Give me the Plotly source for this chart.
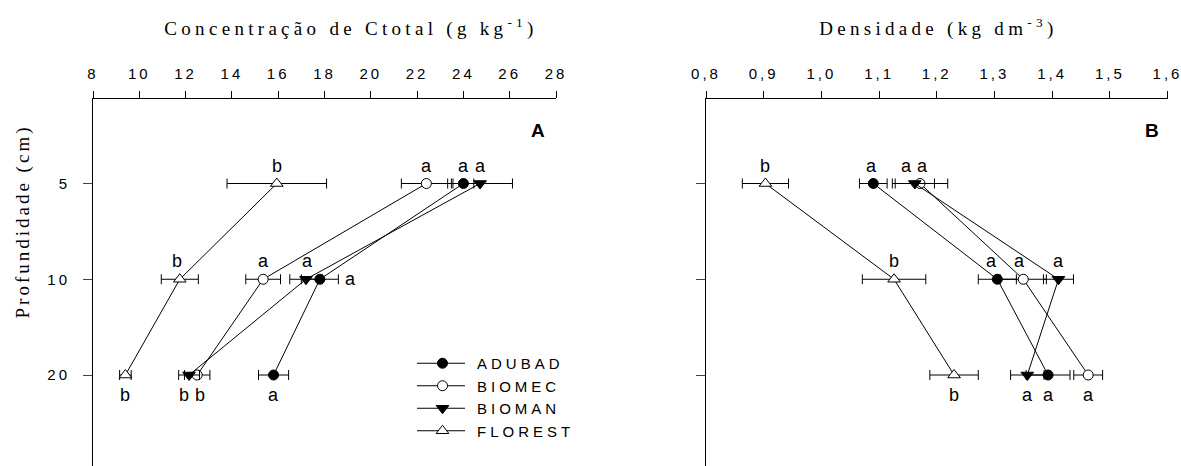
import math
import plotly.graph_objects as go

# ---------------- data ----------------
depths = [5, 10, 20]
series = ["ADUBAD", "BIOMEC", "BIOMAN", "FLOREST"]

ctotal_adubad = [24.0, 17.8, 15.8]
ctotal_biomec = [22.4, 15.35, 12.5]
ctotal_bioman = [24.72, 17.2, 12.15]
ctotal_florest = [15.94, 11.75, 9.4]
ctotal_err_adubad = [0.45, 0.8, 0.65]
ctotal_err_biomec = [1.08, 0.75, 0.55]
ctotal_err_bioman = [1.4, 0.7, 0.45]
ctotal_err_florest = [2.15, 0.8, 0.25]

dens_adubad = [1.09, 1.305, 1.393]
dens_biomec = [1.171, 1.35, 1.4625]
dens_bioman = [1.162, 1.411, 1.357]
dens_florest = [0.903, 1.126, 1.23]
dens_err_adubad = [0.024, 0.033, 0.038]
dens_err_biomec = [0.048, 0.04, 0.025]
dens_err_bioman = [0.034, 0.026, 0.029]
dens_err_florest = [0.04, 0.055, 0.042]

ctotal_letters_adubad = ["a", "a", "a"]
ctotal_letters_biomec = ["a", "a", "b"]
ctotal_letters_bioman = ["a", "a", "b"]
ctotal_letters_florest = ["b", "b", "b"]
dens_letters_adubad = ["a", "a", "a"]
dens_letters_biomec = ["a", "a", "a"]
dens_letters_bioman = ["a", "a", "a"]
dens_letters_florest = ["b", "b", "b"]

ctotal_ticks = [8, 10, 12, 14, 16, 18, 20, 22, 24, 26, 28]
dens_ticks = [0.8, 0.9, 1.0, 1.1, 1.2, 1.3, 1.4, 1.5, 1.6]

# ---------------- styles / positions ----------------
W, H = 1181, 466
markers = {
    "ADUBAD": dict(symbol="circle", size=10, color="black", line=dict(color="black", width=1)),
    "BIOMEC": dict(symbol="circle", size=10, color="white", line=dict(color="black", width=1)),
    "BIOMAN": dict(symbol="triangle-down", size=11, color="black", line=dict(color="black", width=1)),
    "FLOREST": dict(symbol="triangle-up", size=11, color="white", line=dict(color="black", width=1)),
}
# label offsets (xshift px, yshift px) per series and depth
ctotal_label_pos = {
    "ADUBAD": [(0, 18), (31, 0), (0, -20)],
    "BIOMEC": [(0, 18), (0, 18), (3, -20)],
    "BIOMAN": [(0, 18), (2, 18), (-5, -20)],
    "FLOREST": [(0, 18), (-3, 18), (0, -20)],
}
dens_label_pos = {
    "ADUBAD": [(-2, 18), (-6, 18), (0, -20)],
    "BIOMEC": [(2, 18), (-4, 18), (0, -20)],
    "BIOMAN": [(-8, 18), (0, 18), (0, -20)],
    "FLOREST": [(0, 18), (0, 18), (0, -20)],
}

ctotal = {"ADUBAD": ctotal_adubad, "BIOMEC": ctotal_biomec, "BIOMAN": ctotal_bioman, "FLOREST": ctotal_florest}
ctotal_err = {"ADUBAD": ctotal_err_adubad, "BIOMEC": ctotal_err_biomec, "BIOMAN": ctotal_err_bioman, "FLOREST": ctotal_err_florest}
dens = {"ADUBAD": dens_adubad, "BIOMEC": dens_biomec, "BIOMAN": dens_bioman, "FLOREST": dens_florest}
dens_err = {"ADUBAD": dens_err_adubad, "BIOMEC": dens_err_biomec, "BIOMAN": dens_err_bioman, "FLOREST": dens_err_florest}
ctotal_letters = {"ADUBAD": ctotal_letters_adubad, "BIOMEC": ctotal_letters_biomec, "BIOMAN": ctotal_letters_bioman, "FLOREST": ctotal_letters_florest}
dens_letters = {"ADUBAD": dens_letters_adubad, "BIOMEC": dens_letters_biomec, "BIOMAN": dens_letters_bioman, "FLOREST": dens_letters_florest}

fig = go.Figure()
for s in series:
    fig.add_trace(go.Scatter(
        x=ctotal[s], y=depths, name=s, mode="lines+markers",
        line=dict(color="black", width=1), marker=markers[s],
        error_x=dict(type="data", array=ctotal_err[s], color="black", thickness=1, width=5),
        xaxis="x", yaxis="y", legendgroup=s, showlegend=True, hoverinfo="skip",
    ))
for s in series:
    fig.add_trace(go.Scatter(
        x=dens[s], y=depths, name=s, mode="lines+markers",
        line=dict(color="black", width=1), marker=markers[s],
        error_x=dict(type="data", array=dens_err[s], color="black", thickness=1, width=5),
        xaxis="x2", yaxis="y2", legendgroup=s, showlegend=False, hoverinfo="skip",
    ))

serif = "Liberation Serif, Times New Roman, serif"
sans = "Liberation Sans, Arial, sans-serif"

annotations = [
    dict(text="Concentração de Ctotal (g kg<sup>-1</sup>)", x=351 / W, y=1 - 28 / H,
         xref="paper", yref="paper", showarrow=False, font=dict(family=serif, size=19, color="black"),
         xanchor="center", yanchor="middle"),
    dict(text="Densidade (kg dm<sup>-3</sup>)", x=938 / W, y=1 - 28 / H,
         xref="paper", yref="paper", showarrow=False, font=dict(family=serif, size=19, color="black"),
         xanchor="center", yanchor="middle"),
    dict(text="Profundidade (cm)", x=23 / W, y=1 - 222 / H, textangle=-90,
         xref="paper", yref="paper", showarrow=False, font=dict(family=serif, size=19, color="black"),
         xanchor="center", yanchor="middle"),
    dict(text="<b>A</b>", x=538 / W, y=1 - 130 / H, xref="paper", yref="paper", showarrow=False,
         font=dict(family=sans, size=19, color="black"), xanchor="center", yanchor="middle"),
    dict(text="<b>B</b>", x=1152 / W, y=1 - 130 / H, xref="paper", yref="paper", showarrow=False,
         font=dict(family=sans, size=19, color="black"), xanchor="center", yanchor="middle"),
]
for s in series:
    for i, d in enumerate(depths):
        dx, dy = ctotal_label_pos[s][i]
        annotations.append(dict(text=ctotal_letters[s][i], x=ctotal[s][i], y=math.log10(d), xref="x", yref="y",
                                showarrow=False, xshift=dx, yshift=dy,
                                font=dict(family=sans, size=18, color="black")))
        dx, dy = dens_label_pos[s][i]
        annotations.append(dict(text=dens_letters[s][i], x=dens[s][i], y=math.log10(d), xref="x2", yref="y2",
                                showarrow=False, xshift=dx, yshift=dy,
                                font=dict(family=sans, size=18, color="black")))

ytop_px, ybot_px = 99, 466
p5, p20 = 183.5, 375.0
ppd = (p20 - p5) / math.log10(4)
ylog_top = math.log10(5) - (p5 - ytop_px) / ppd
ylog_bot = math.log10(20) + (ybot_px - p20) / ppd

tickfont = dict(family=sans, size=15, color="black")
common_x = dict(side="top", showline=True, linecolor="black", linewidth=1, ticks="outside",
                ticklen=7, tickwidth=1, tickcolor="black", showgrid=False, zeroline=False,
                tickfont=tickfont, automargin=False, ticklabelstandoff=6)
common_y = dict(type="log", range=[ylog_bot, ylog_top], tickvals=depths, ticktext=[str(d) for d in depths],
                showline=True, linecolor="black", linewidth=1, ticks="outside", ticklen=9, tickwidth=1,
                tickcolor="#444444", showgrid=False, zeroline=False, tickfont=tickfont, automargin=False,
                domain=[0, 1 - ytop_px / H])

fig.update_layout(
    width=W, height=H, margin=dict(l=0, r=0, t=0, b=0),
    paper_bgcolor="white", plot_bgcolor="white", separators=", ",
    hovermode=False,
    xaxis=dict(common_x, range=[8, 28], tickvals=ctotal_ticks, domain=[93 / W, 556 / W], anchor="y"),
    yaxis=dict(common_y, anchor="x", ticklabelstandoff=10),
    xaxis2=dict(common_x, range=[0.8, 1.6], tickvals=dens_ticks, tickformat=".1f",
                domain=[706 / W, 1167.5 / W], anchor="y2"),
    yaxis2=dict(common_y, anchor="x2", showticklabels=False),
    annotations=annotations,
    showlegend=True,
    legend=dict(x=408 / W, y=1 - 347 / H, xanchor="left", yanchor="top", bgcolor="rgba(0,0,0,0)",
                font=dict(family=sans, size=15, color="black"), itemwidth=59, tracegroupgap=0),
)

post = """
document.body.style.margin='0';
document.body.style.padding='0';
var gd=document.getElementById('{plot_id}');
function ls(sel,v){gd.querySelectorAll(sel).forEach(function(e){e.style.letterSpacing=v;});}
ls('.xtick text','3px'); ls('.x2tick text','3px'); ls('.ytick text','3px');
ls('.legendtext','4px');
ls('.annotation[data-index="0"] text','4.3px');
ls('.annotation[data-index="1"] text','4.3px');
ls('.annotation[data-index="2"] text','3px');
gd.querySelectorAll('.legend .scrollbox, .legend').forEach(function(e){e.removeAttribute('clip-path');});
gd.querySelectorAll('[clip-path*="legend"]').forEach(function(e){e.removeAttribute('clip-path');});
gd.querySelectorAll('.legend .legendlines path').forEach(function(e){e.setAttribute('d','M9,0h48');});
"""
fig.write_html("out.html", post_script=post, config={"displayModeBar": False, "staticPlot": True})
